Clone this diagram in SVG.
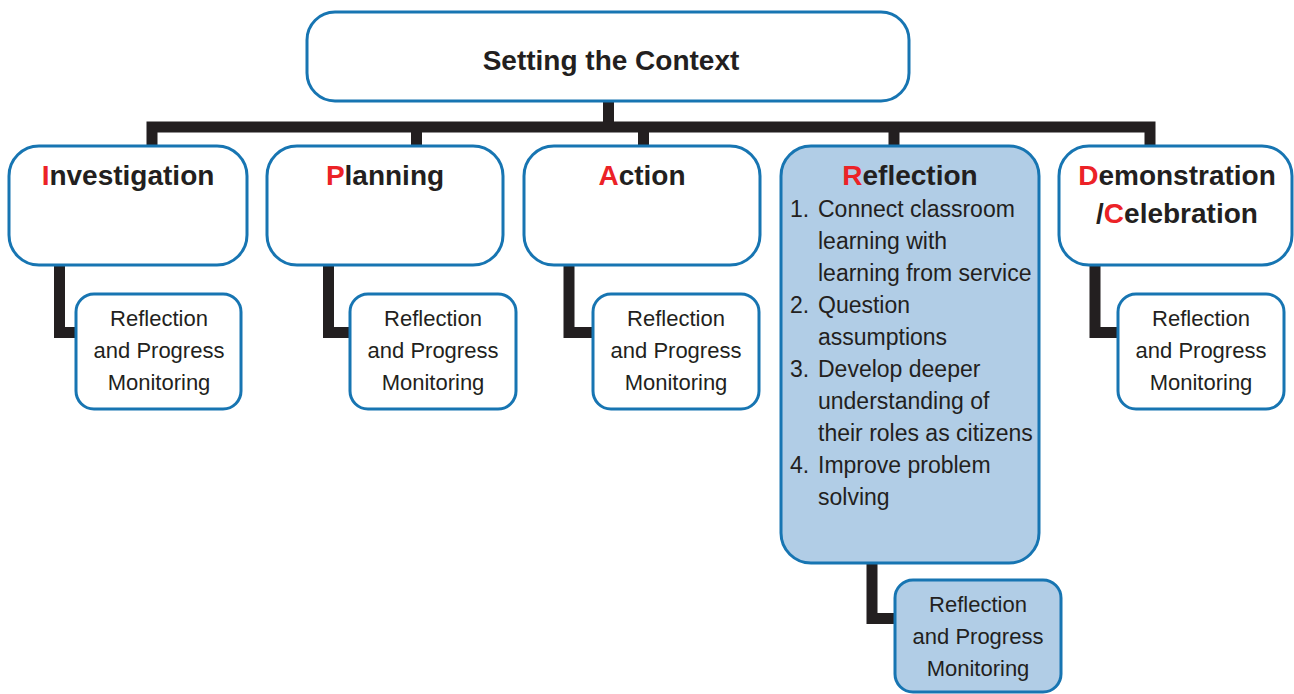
<svg xmlns="http://www.w3.org/2000/svg" width="1294" height="694" viewBox="0 0 1294 694">
<style>
.box{fill:#ffffff;stroke:#1775b2;stroke-width:3}
.hl{fill:#b1cde6}
.title{font-family:"Liberation Sans",Arial,sans-serif;font-weight:bold;font-size:28px;fill:#231f20;text-anchor:middle}
.red{fill:#ec2227}
.sub{font-family:"Liberation Sans",Arial,sans-serif;font-size:22px;fill:#231f20;text-anchor:middle}
.list{font-family:"Liberation Sans",Arial,sans-serif;font-size:23px;fill:#231f20}
.conn{fill:none;stroke:#231f20;stroke-width:11;stroke-linejoin:miter;stroke-linecap:butt}
</style>
<rect width="1294" height="694" fill="#ffffff"/>
<g id="connectors">
<path class="conn" d="M608.5,100 V127"/>
<path class="conn" d="M152,147 V127 H1150 V147"/>
<path class="conn" d="M416.5,127 V147"/>
<path class="conn" d="M643.5,127 V147"/>
<path class="conn" d="M894,127 V147"/>
<path class="conn" d="M59.5,264 V332.5 H77"/>
<path class="conn" d="M328.5,264 V332.5 H351"/>
<path class="conn" d="M569,264 V332.5 H594"/>
<path class="conn" d="M1095,264 V332.5 H1119"/>
<path class="conn" d="M872,562 V618.5 H896"/>
</g>
<g id="setting-context">
<rect class="box" x="307" y="12" width="602" height="89" rx="28"/>
<text class="title" x="611" y="70">Setting the Context</text>
</g>
<g id="investigation">
<rect class="box" x="9" y="146" width="238" height="119" rx="30"/>
<text class="title" x="128" y="185"><tspan class="red">I</tspan>nvestigation</text>
</g>
<g id="planning">
<rect class="box" x="267" y="146" width="236" height="119" rx="30"/>
<text class="title" x="385" y="185"><tspan class="red">P</tspan>lanning</text>
</g>
<g id="action">
<rect class="box" x="524" y="146" width="236" height="119" rx="30"/>
<text class="title" x="642" y="185"><tspan class="red">A</tspan>ction</text>
</g>
<g id="reflection">
<rect class="box hl" x="781" y="146" width="258" height="417" rx="30"/>
<text class="title" x="910" y="185"><tspan class="red">R</tspan>eflection</text>
<text class="list" x="790" y="217">1.</text>
<text class="list" x="818" y="217">Connect classroom</text>
<text class="list" x="818" y="249">learning with</text>
<text class="list" x="818" y="281">learning from service</text>
<text class="list" x="790" y="313">2.</text>
<text class="list" x="818" y="313">Question</text>
<text class="list" x="818" y="345">assumptions</text>
<text class="list" x="790" y="377">3.</text>
<text class="list" x="818" y="377">Develop deeper</text>
<text class="list" x="818" y="409">understanding of</text>
<text class="list" x="818" y="441">their roles as citizens</text>
<text class="list" x="790" y="473">4.</text>
<text class="list" x="818" y="473">Improve problem</text>
<text class="list" x="818" y="505">solving</text>
</g>
<g id="demonstration">
<rect class="box" x="1059" y="146" width="233" height="119" rx="30"/>
<text class="title" x="1177" y="185"><tspan class="red">D</tspan>emonstration</text>
<text class="title" x="1177" y="223">/<tspan class="red">C</tspan>elebration</text>
</g>
<g id="monitor-investigation">
<rect class="box" x="76" y="294" width="165" height="115" rx="18"/>
<text class="sub" x="159" y="326">Reflection</text>
<text class="sub" x="159" y="358">and Progress</text>
<text class="sub" x="159" y="390">Monitoring</text>
</g>
<g id="monitor-planning">
<rect class="box" x="350" y="294" width="166" height="115" rx="18"/>
<text class="sub" x="433" y="326">Reflection</text>
<text class="sub" x="433" y="358">and Progress</text>
<text class="sub" x="433" y="390">Monitoring</text>
</g>
<g id="monitor-action">
<rect class="box" x="593" y="294" width="166" height="115" rx="18"/>
<text class="sub" x="676" y="326">Reflection</text>
<text class="sub" x="676" y="358">and Progress</text>
<text class="sub" x="676" y="390">Monitoring</text>
</g>
<g id="monitor-reflection">
<rect class="box hl" x="895" y="580" width="166" height="112" rx="18"/>
<text class="sub" x="978" y="612">Reflection</text>
<text class="sub" x="978" y="644">and Progress</text>
<text class="sub" x="978" y="676">Monitoring</text>
</g>
<g id="monitor-demonstration">
<rect class="box" x="1118" y="294" width="166" height="115" rx="18"/>
<text class="sub" x="1201" y="326">Reflection</text>
<text class="sub" x="1201" y="358">and Progress</text>
<text class="sub" x="1201" y="390">Monitoring</text>
</g>
</svg>
